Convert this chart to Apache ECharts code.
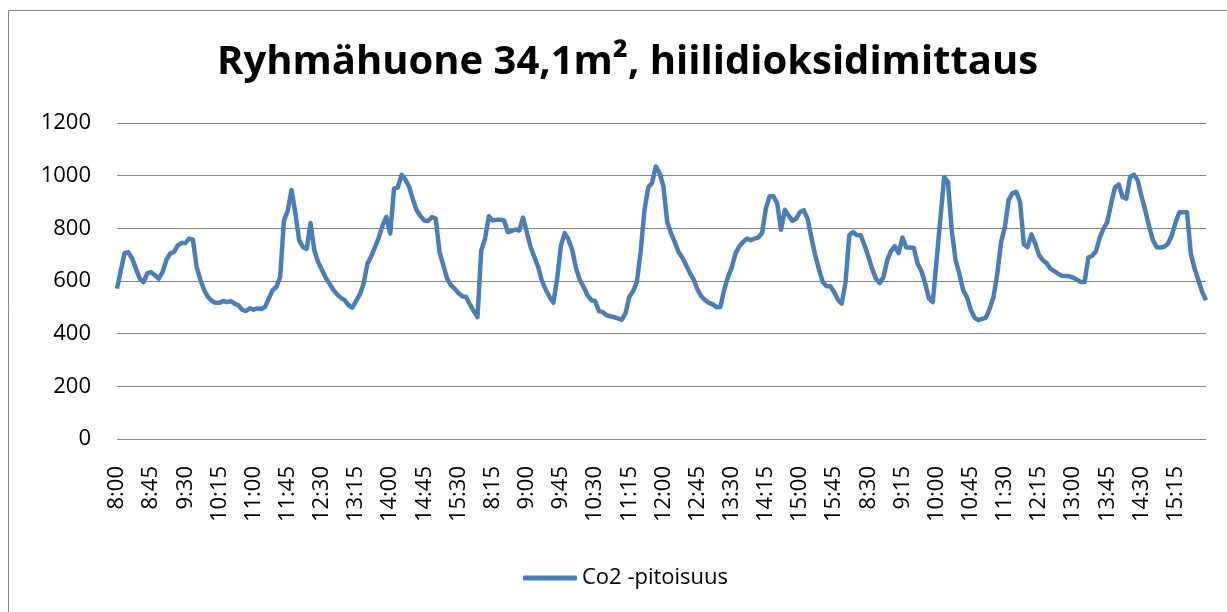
<!DOCTYPE html>
<html>
<head>
<meta charset="utf-8">
<script src="https://cdn.jsdelivr.net/npm/echarts@6/dist/echarts.min.js"></script>
<style>
  html, body { margin: 0; padding: 0; background: #fff; }
  #chart { width: 1227px; height: 612px; }
</style>
</head>
<body>
<div id="chart"></div>
<script>
// three measuring days, 8:00 - 15:55 every 5 minutes
var dayTimes = [];
for (var h = 8; h < 16; h++) {
    for (var m = 0; m < 60; m += 5) {
        dayTimes.push(h + ':' + (m < 10 ? '0' : '') + m);
    }
}
var categories = dayTimes.concat(dayTimes, dayTimes);

var day1 = [
    571, 640, 706, 709, 685, 647, 609, 596, 630, 633, 622, 609,
    634, 679, 704, 710, 735, 744, 744, 761, 757, 653, 603, 565,
    539, 524, 517, 517, 524, 520, 523, 514, 508, 491, 486, 496,
    491, 496, 494, 501, 533, 565, 577, 615, 830, 868, 945, 860,
    755, 729, 722, 820, 717, 672, 643, 613, 590, 567, 549, 536,
    527, 508, 499, 524, 549, 590, 666, 694, 729, 765, 812, 843,
    780, 951, 955, 1003, 985, 957, 909, 868, 846, 830, 828, 843,
    837, 710, 660, 609, 584, 571, 554, 542, 539, 511, 486, 463
];
var day2 = [
    717, 761, 846, 830, 833, 833, 830, 786, 790, 795, 792, 841,
    786, 729, 691, 653, 600, 567, 539, 517, 609, 735, 782, 757,
    717, 647, 603, 577, 546, 527, 524, 486, 482, 470, 466, 463,
    458, 453, 476, 539, 561, 596, 710, 868, 955, 972, 1035, 1010,
    960, 824, 782, 748, 710, 689, 660, 630, 605, 567, 542, 527,
    517, 511, 501, 501, 565, 615, 651, 704, 732, 748, 761, 755,
    761, 765, 782, 875, 922, 922, 894, 795, 870, 849, 828, 837,
    862, 868, 837, 765, 698, 644, 596, 580, 580, 558, 529, 514
];
var day3 = [
    596, 774, 786, 774, 774, 736, 694, 647, 609, 592, 615, 679,
    714, 732, 706, 765, 727, 727, 725, 666, 638, 590, 533, 520,
    679, 837, 995, 976, 792, 679, 628, 565, 539, 491, 461, 451,
    456, 461, 495, 539, 628, 748, 805, 909, 934, 938, 900, 739,
    729, 777, 742, 698, 679, 668, 646, 638, 628, 620, 619, 618,
    613, 605, 596, 596, 689, 696, 713, 765, 799, 824, 894, 955,
    967, 919, 913, 995, 1004, 982, 922, 868, 808, 755, 728, 727,
    730, 742, 774, 824, 861, 861, 861, 704, 647, 603, 558, 527
];
var co2 = day1.concat(day2, day3);

var yTicks = [0, 200, 400, 600, 800, 1000, 1200];

var myChart = echarts.init(document.getElementById('chart'));

var option = {
    animation: false,
    backgroundColor: '#fff',
    title: {
        text: 'Ryhmähuone 34,1m², hiilidioksidimittaus',
        left: 212,
        top: 38,
        textStyle: {
            fontFamily: 'Open Sans',
            fontWeight: 'bold',
            fontSize: 40,
            color: '#000'
        }
    },
    graphic: [{
        type: 'rect',
        shape: { x: 8.5, y: 10.5, width: 1240, height: 700 },
        style: { fill: 'none', stroke: '#868686', lineWidth: 1 },
        silent: true
    }],
    legend: {
        bottom: 18,
        left: 518,
        icon: 'roundRect',
        itemWidth: 54,
        itemHeight: 5,
        textStyle: {
            fontFamily: 'Open Sans',
            fontSize: 22,
            color: '#000'
        },
        data: ['Co2 -pitoisuus']
    },
    grid: {
        left: 117,
        right: 21,
        top: 123,
        bottom: 173
    },
    xAxis: {
        type: 'category',
        data: categories,
        boundaryGap: false,
        axisLine: { show: false },
        axisTick: { show: false },
        axisLabel: {
            interval: 8,
            rotate: 90,
            margin: 27,
            fontFamily: 'Open Sans',
            fontSize: 22,
            color: '#000'
        }
    },
    yAxis: {
        type: 'value',
        min: yTicks[0],
        max: yTicks[yTicks.length - 1],
        interval: 200,
        axisLine: { show: false },
        axisTick: { show: false },
        axisLabel: {
            margin: 26,
            fontFamily: 'Open Sans',
            fontSize: 22,
            color: '#000',
            formatter: function (v) { return String(v); }
        },
        splitLine: {
            lineStyle: { color: '#868686', width: 1.2 }
        }
    },
    series: [{
        name: 'Co2 -pitoisuus',
        type: 'line',
        data: co2,
        symbol: 'none',
        smooth: false,
        lineStyle: { color: '#4a7ebb', width: 4.5, join: 'round' },
        itemStyle: { color: '#4a7ebb' }
    }]
};

myChart.setOption(option);
</script>
</body>
</html>
